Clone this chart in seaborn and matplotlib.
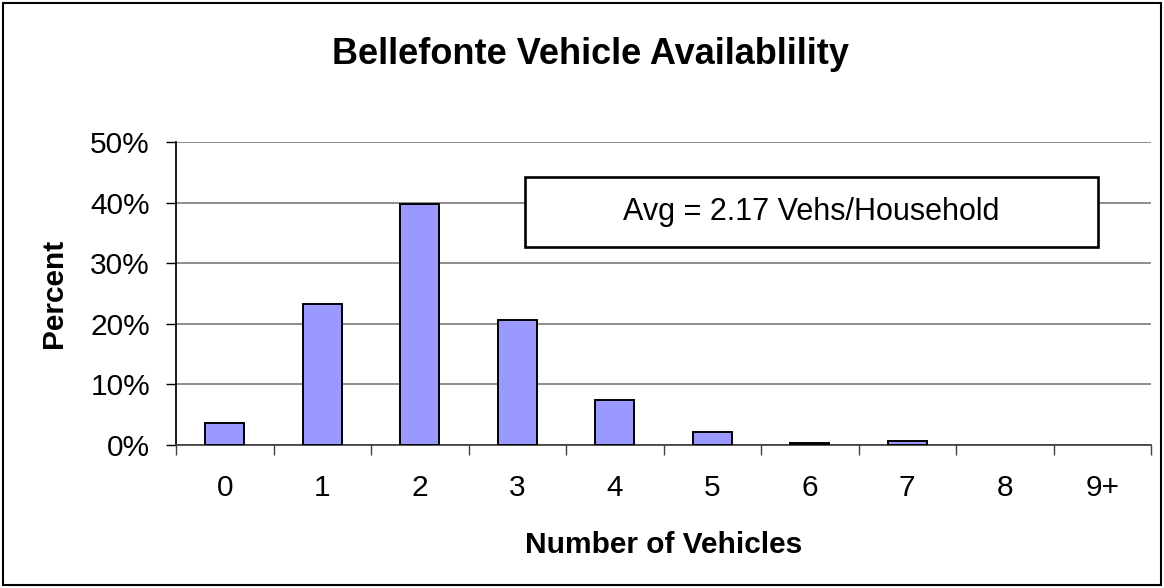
import matplotlib
matplotlib.use("Agg")
import matplotlib.pyplot as plt
import matplotlib.patches as mpatches
from matplotlib.ticker import PercentFormatter, FixedLocator
import seaborn as sns
import pandas as pd

# data
categories = ["0", "1", "2", "3", "4", "5", "6", "7", "8", "9+"]
percent = [3.7, 23.2, 39.7, 20.6, 7.5, 2.2, 0.3, 0.7, 0.0, 0.0]
avg_label = "Avg = 2.17 Vehs/Household"

sns.set_theme(style="white")
plt.rcParams['font.family'] = ['Liberation Sans', 'DejaVu Sans']
plt.rcParams['text.color'] = 'black'
plt.rcParams['axes.labelcolor'] = 'black'
plt.rcParams['xtick.color'] = 'black'
plt.rcParams['ytick.color'] = 'black'

W, H = 1164, 588
fig = plt.figure(figsize=(W / 100, H / 100), dpi=100)

# plot area in pixels (left, top, right, bottom)
L, T, R, B = 176, 142, 1151, 445
ax = fig.add_axes([L / W, 1 - B / H, (R - L) / W, (B - T) / H])

df = pd.DataFrame({"Vehicles": categories, "Percent": percent})
sns.barplot(data=df, x="Vehicles", y="Percent", ax=ax, color="#9999FF",
            saturation=1, width=0.4, edgecolor="black", linewidth=1.4, zorder=3)

# empty categories show no outline in the original
for bar in ax.patches:
    if bar.get_height() == 0:
        bar.set_linewidth(0)

ax.set_xlim(-0.5, len(categories) - 0.5)
ax.set_ylim(0, 50)
ax.set_yticks(range(0, 51, 10))
ax.yaxis.set_major_formatter(PercentFormatter(decimals=0))
ax.grid(axis="y", color="#707070", linewidth=1.1, zorder=0)
ax.set_axisbelow(True)

for side in ["top", "right"]:
    ax.spines[side].set_visible(False)
ax.spines["left"].set_color("black")
ax.spines["bottom"].set_color("#404040")

# category separator ticks below the x axis
ax.xaxis.set_minor_locator(FixedLocator([i - 0.5 for i in range(len(categories) + 1)]))
ax.tick_params(axis="x", which="minor", bottom=True, length=7.2, width=1, color="#404040")
ax.tick_params(axis="x", which="major", bottom=False, length=0, pad=21, labelsize=21.5)
ax.tick_params(axis="y", left=True, length=7.2, width=1, color="black", pad=11.5, labelsize=21.5)

ax.set_xlabel("Number of Vehicles", fontsize=21.5, fontweight="bold")
ax.xaxis.label.set_va("baseline")
ax.xaxis.set_label_coords(0.5, -(553 - B) / (B - T))
ax.set_ylabel("Percent", fontsize=21.5, fontweight="bold")
ax.yaxis.label.set_va("center")
ax.yaxis.set_label_coords(-(L - 54) / (R - L), 0.5)

fig.text(590 / W, 1 - 64 / H, "Bellefonte Vehicle Availablility", ha="center", va="baseline",
         fontsize=26, fontweight="bold")

# annotation box
bx0, by0, bx1, by1 = 525, 177, 1098, 247
fig.patches.append(mpatches.Rectangle((bx0 / W, 1 - by1 / H), (bx1 - bx0) / W, (by1 - by0) / H,
                                      transform=fig.transFigure, facecolor="white",
                                      edgecolor="black", linewidth=1.9, zorder=5))
fig.text((bx0 + bx1) / 2 / W, 1 - 212 / H, avg_label, ha="center", va="center",
         fontsize=22, zorder=6)

# outer chart border
fig.patches.append(mpatches.Rectangle((3 / W, 3 / H), (W - 6) / W, (H - 6) / H,
                                      transform=fig.transFigure, fill=False,
                                      edgecolor="black", linewidth=1.5))

fig.savefig("out.png", dpi=100, facecolor="white")
